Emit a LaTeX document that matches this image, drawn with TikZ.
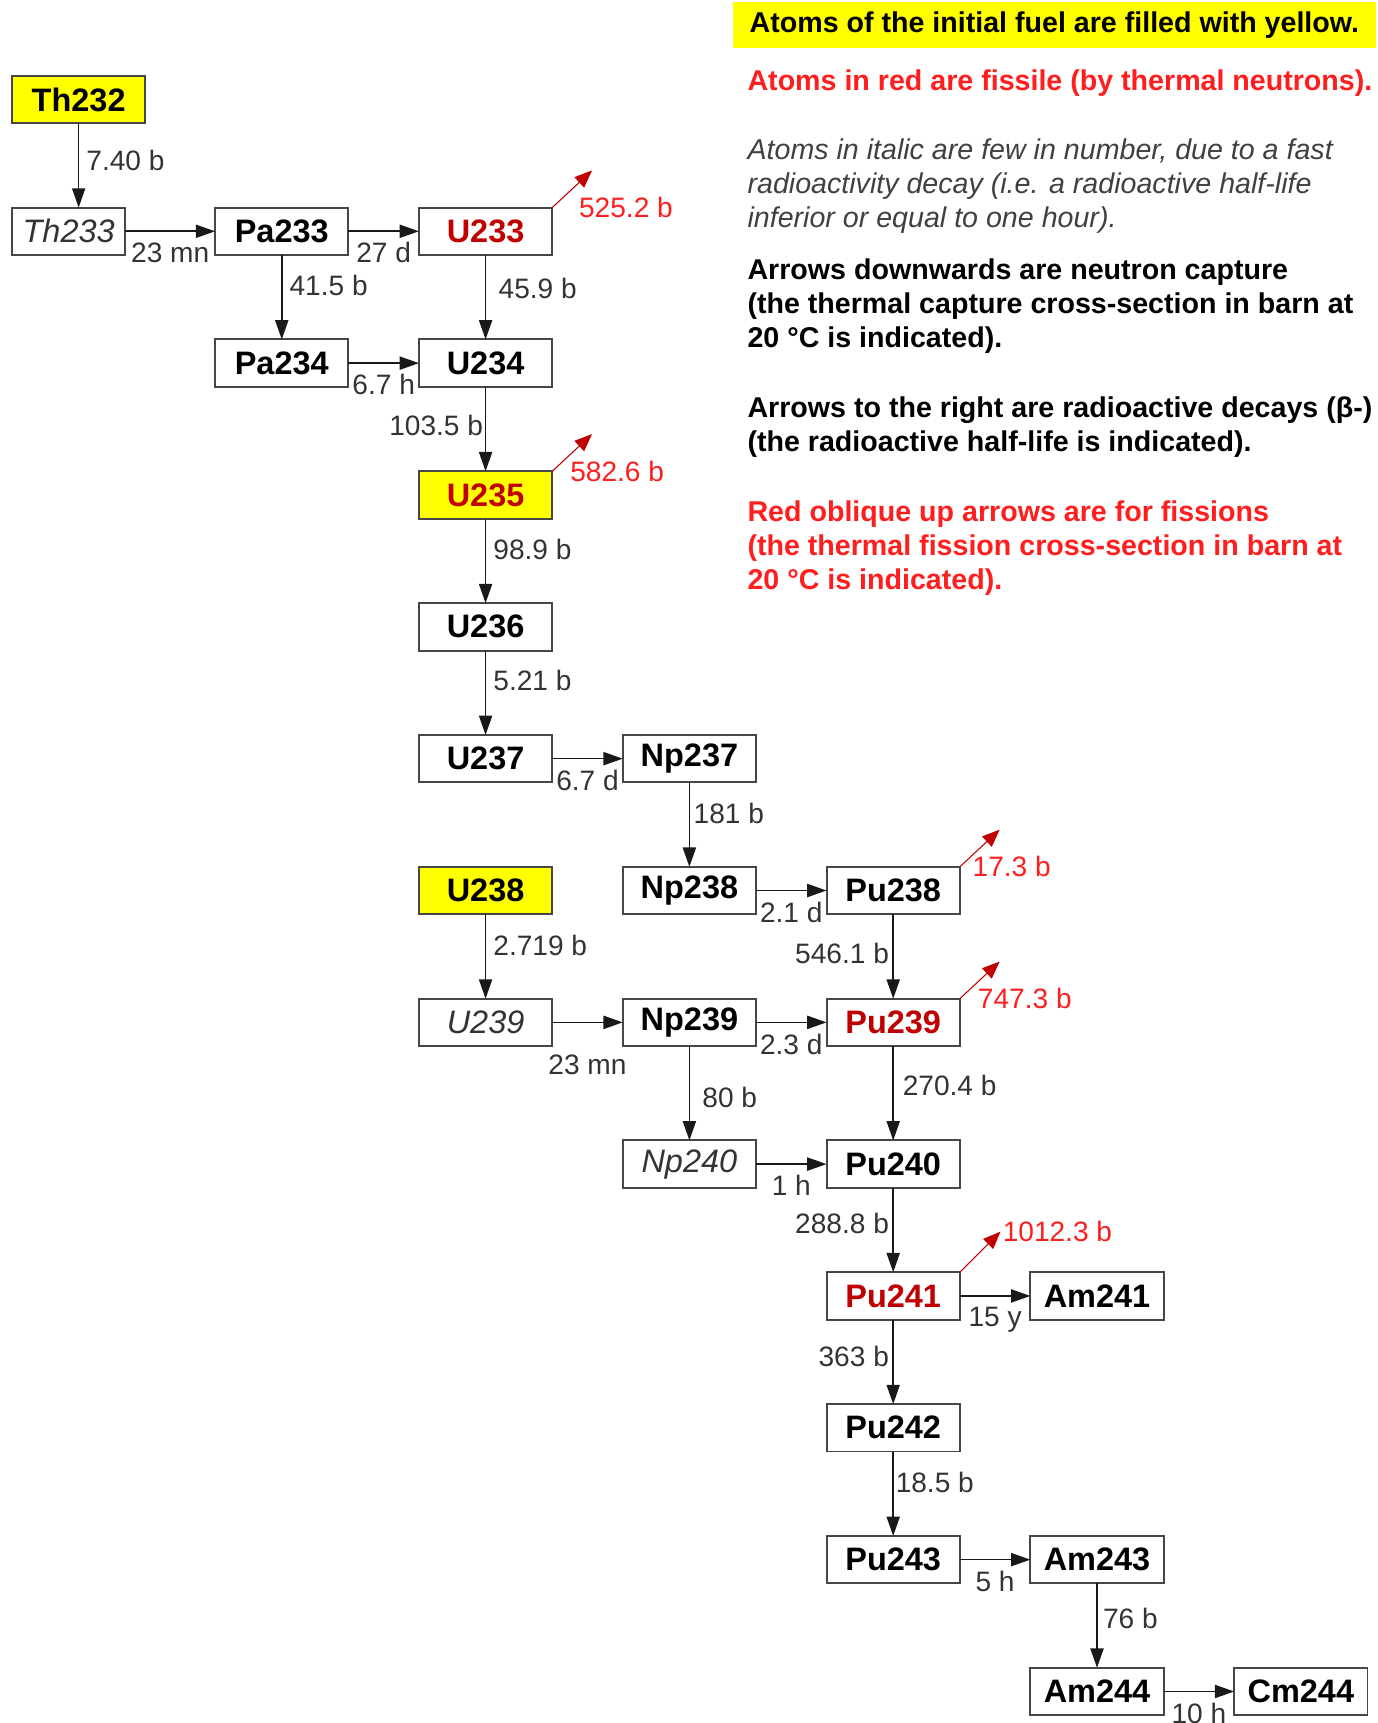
\documentclass[tikz,border=0pt]{standalone}
\usepackage{fontspec}
\setmainfont{Liberation Sans}
\usetikzlibrary{positioning, arrows.meta}

\definecolor{fuelyellow}{RGB}{255,255,0}
\definecolor{fissred}{RGB}{192,0,0}
\definecolor{notered}{RGB}{255,30,30}
\definecolor{labelgray}{RGB}{51,51,51}
\definecolor{boxgray}{RGB}{70,70,70}
\definecolor{arrowgray}{RGB}{25,25,25}
\definecolor{notegray}{RGB}{64,64,64}

\newcommand{\nucfont}{\fontsize{18.5}{22}\selectfont\bfseries}
\newcommand{\shortfont}{\fontsize{18.5}{22}\selectfont\itshape}
\newcommand{\numfont}{\fontsize{16}{19}\selectfont}
\newcommand{\notefont}{\fontsize{16.3}{19.4}\selectfont}

\begin{document}
\begin{tikzpicture}[x=0.022cm, y=-0.022cm,
nuc/.style={rectangle, draw=boxgray, line width=1.1pt, minimum width=2.67cm, minimum height=0.95cm, inner sep=0pt, outer sep=0pt, font=\nucfont},
fuel/.style={fill=fuelyellow},
fissile/.style={text=fissred},
shortlived/.style={font=\shortfont, text=labelgray},
capture/.style={-{Triangle[length=11pt,width=7.5pt]}, line width=0.9pt, draw=arrowgray},
decay/.style={capture},
xsec/.style={font=\numfont, text=labelgray, inner sep=0pt, pos=0.4},
halflife/.style={font=\numfont, text=labelgray, inner sep=0pt, midway, below=6pt},
fission/.style={-{Triangle[length=10pt,width=8pt]}, line width=0.6pt, draw=fissred},
fisstext/.style={font=\numfont, text=notered, inner sep=0pt},
note/.style={font=\notefont, align=left, anchor=north west, inner sep=0pt},
node distance=1.69cm and 1.411cm
]
\useasboundingbox (0,0) rectangle (1254,1568);

%Legend
\node[fill=fuelyellow, minimum width=12.87cm, minimum height=0.924cm, inner sep=0pt, font=\notefont\bfseries] (fuelnote) at (959.5,23) {Atoms of the initial fuel are filled with yellow.};
\node[note, text=notered, font=\notefont\bfseries] (rednote) at (680,63) {Atoms in red are fissile (by thermal neutrons).};
\node[note, text=notegray, font=\notefont\itshape] (italicnote) at (680,126) {Atoms in italic are few in number, due to a fast\\radioactivity decay (i.e. a radioactive half-life\\inferior or equal to one hour).};
\node[note, font=\notefont\bfseries] (capnote) at (680,235) {Arrows downwards are neutron capture\\(the thermal capture cross-section in barn at\\20 °C is indicated).};
\node[note, font=\notefont\bfseries] (decaynote) at (680,361) {Arrows to the right are radioactive decays (β-)\\(the radioactive half-life is indicated).};
\node[note, text=notered, font=\notefont\bfseries] (fissnote) at (680,455) {Red oblique up arrows are for fissions\\(the thermal fission cross-section in barn at\\20 °C is indicated).};

%Nodes
\node[nuc, fuel, anchor=north west] (Th232) at (10.9,68.9) {Th232};
\node[nuc, shortlived, minimum width=2.27cm] (Th233) [below=1.69cm of Th232.south west, anchor=north west] {Th233};
\node[nuc]                 (Pa233) [right=1.797cm of Th233] {Pa233};
\node[nuc, fissile]        (U233)  [right=of Pa233] {U233};
\node[nuc]                 (Pa234) [below=of Pa233] {Pa234};
\node[nuc]                 (U234)  [below=of U233]  {U234};
\node[nuc, fuel, fissile]  (U235)  [below=of U234]  {U235};
\node[nuc]                 (U236)  [below=of U235]  {U236};
\node[nuc]                 (U237)  [below=of U236]  {U237};
\node[nuc]                 (Np237) [right=of U237]  {Np237};
\node[nuc]                 (Np238) [below=of Np237] {Np238};
\node[nuc]                 (Pu238) [right=of Np238] {Pu238};
\node[nuc, fuel]           (U238)  [left=of Np238]  {U238};
\node[nuc, shortlived]     (U239)  [below=of U238]  {U239};
\node[nuc]                 (Np239) [below=of Np238] {Np239};
\node[nuc, fissile]        (Pu239) [below=of Pu238] {Pu239};
\node[nuc, shortlived]     (Np240) [below=1.888cm of Np239] {Np240};
\node[nuc]                 (Pu240) [right=of Np240] {Pu240};
\node[nuc, fissile]        (Pu241) [below=of Pu240] {Pu241};
\node[nuc]                 (Am241) [right=of Pu241] {Am241};
\node[nuc]                 (Pu242) [below=of Pu241] {Pu242};
\node[nuc]                 (Pu243) [below=of Pu242] {Pu243};
\node[nuc]                 (Am243) [right=of Pu243] {Am243};
\node[nuc]                 (Am244) [below=of Am243] {Am244};
\node[nuc]                 (Cm244) [right=of Am244] {Cm244};

%Captures
\draw[capture] (Th232.south) -- (Th232.south |- Th233.north) node[xsec, right=4pt, pos=0.44] {7.40 b};
\draw[capture] (Pa233) -- (Pa234) node[xsec, right=4pt, pos=0.36] {41.5 b};
\draw[capture] (U233) -- (U234) node[xsec, right=7pt] {45.9 b};
\draw[capture] (U234) -- (U235) node[xsec, left=1pt, pos=0.46] {103.5 b};
\draw[capture] (U235) -- (U236) node[xsec, right=4pt, pos=0.36] {98.9 b};
\draw[capture] (U236) -- (U237) node[xsec, right=4pt, pos=0.36] {5.21 b};
\draw[capture] (Np237) -- (Np238) node[xsec, right=2pt, pos=0.37] {181 b};
\draw[capture] (U238) -- (U239) node[xsec, right=4pt, pos=0.37] {2.719 b};
\draw[capture] (Pu238) -- (Pu239) node[xsec, left=2pt, pos=0.47] {546.1 b};
\draw[capture] (Np239) -- (Np240) node[xsec, right=7pt, pos=0.54] {80 b};
\draw[capture] (Pu239) -- (Pu240) node[xsec, right=5pt, pos=0.42] {270.4 b};
\draw[capture] (Pu240) -- (Pu241) node[xsec, left=2pt, pos=0.42] {288.8 b};
\draw[capture] (Pu241) -- (Pu242) node[xsec, left=2pt, pos=0.44] {363 b};
\draw[capture] (Pu242) -- (Pu243) node[xsec, right=1pt, pos=0.37] {18.5 b};
\draw[capture] (Am243) -- (Am244) node[xsec, right=3pt, pos=0.41] {76 b};

%Decays
\draw[decay] (Th233) -- (Pa233) node[halflife] {23 mn};
\draw[decay] (Pa233) -- (U233) node[halflife] {27 d};
\draw[decay] (Pa234) -- (U234) node[halflife] {6.7 h};
\draw[decay] (U237) -- (Np237) node[halflife] {6.7 d};
\draw[decay] (Np238) -- (Pu238) node[halflife] {2.1 d};
\draw[decay] (U239) -- (Np239) node[halflife, below=18pt] {23 mn};
\draw[decay] (Np239) -- (Pu239) node[halflife] {2.3 d};
\draw[decay] (Np240) -- (Pu240) node[halflife] {1 h};
\draw[decay] (Pu241) -- (Am241) node[halflife] {15 y};
\draw[decay] (Pu243) -- (Am243) node[halflife] {5 h};
\draw[decay] (Am244) -- (Cm244) node[halflife] {10 h};

%Fissions
\coordinate (fU233) at ([shift={(43:1.09cm)}]U233.north east);
\coordinate (fU235) at ([shift={(43:1.09cm)}]U235.north east);
\coordinate (fPu238) at ([shift={(43:1.09cm)}]Pu238.north east);
\coordinate (fPu239) at ([shift={(43:1.09cm)}]Pu239.north east);
\coordinate (fPu241) at ([shift={(45:1.15cm)}]Pu241.north east);
\draw[fission] (U233.north east) -- (fU233) node[fisstext, pos=0, right=15pt] {525.2 b};
\draw[fission] (U235.north east) -- (fU235) node[fisstext, pos=0, right=10pt] {582.6 b};
\draw[fission] (Pu238.north east) -- (fPu238) node[fisstext, pos=0, right=7pt] {17.3 b};
\draw[fission] (Pu239.north east) -- (fPu239) node[fisstext, pos=0, right=10pt] {747.3 b};
\draw[fission] (Pu241.north east) -- (fPu241) node[fisstext, pos=1, right=1pt] {1012.3 b};
\end{tikzpicture}
\end{document}
